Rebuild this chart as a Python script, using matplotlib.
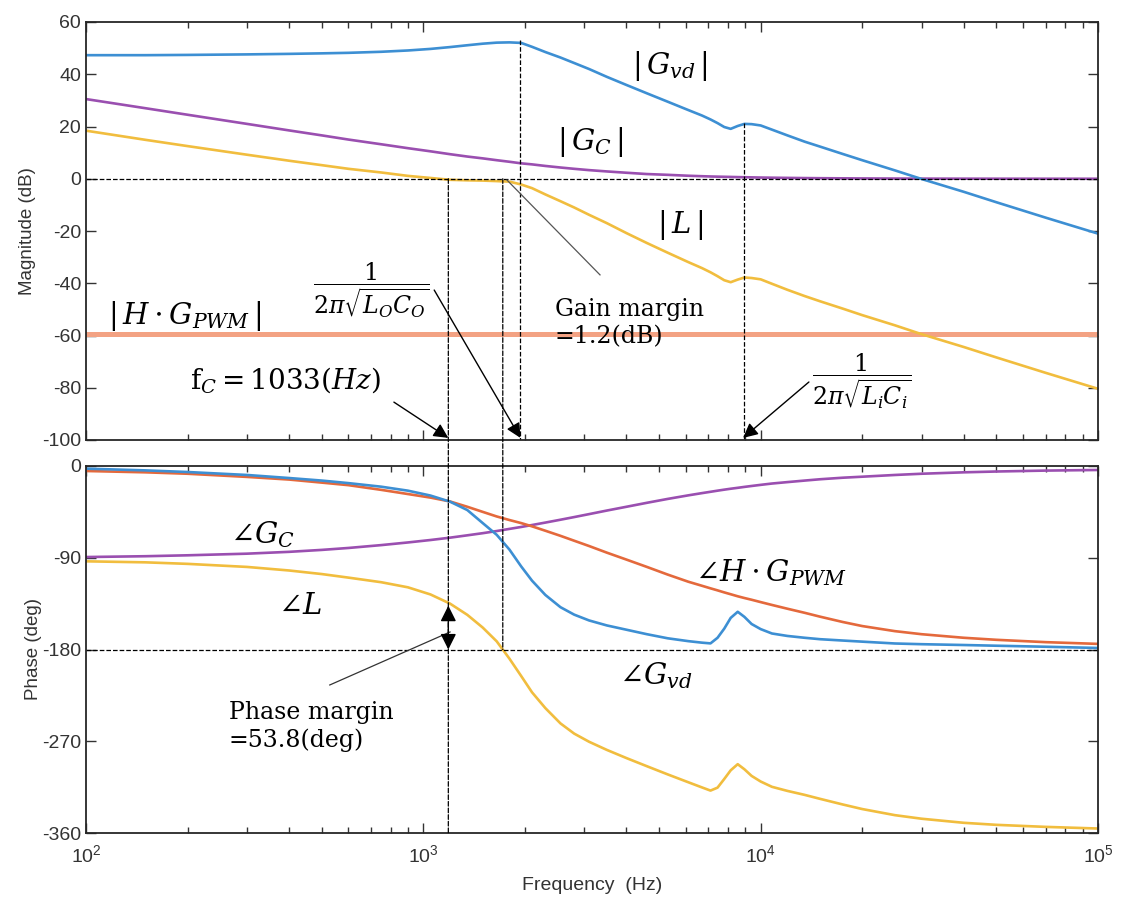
import matplotlib
matplotlib.use("Agg")
import matplotlib.pyplot as plt
from matplotlib.patches import ConnectionPatch

plt.rcParams['font.family'] = ['Liberation Sans Narrow', 'Liberation Sans', 'DejaVu Sans']
plt.rcParams['mathtext.fontset'] = 'dejavuserif'
plt.rcParams['axes.unicode_minus'] = False

# frequency grid (Hz)
freq = [100, 150, 200, 300, 400, 500, 600, 750, 900, 1050, 1200, 1350, 1500, 1650, 1800, 1950,
        2100, 2300, 2550, 2800, 3100, 3500, 4000, 4600, 5300, 6100, 6700, 7100, 7450, 7800,
        8150, 8550, 8950, 9400, 10000, 10800, 12000, 13500, 15000, 17500, 20000, 25000, 30000,
        40000, 50000, 70000, 100000]

# magnitude (dB)
gvd_mag = [47.3, 47.3, 47.4, 47.6, 47.8, 48.0, 48.2, 48.6, 49.1, 49.7, 50.4, 51.1, 51.7, 52.1, 52.2, 52.0,
           50.5, 48.5, 46.4, 44.3, 42.0, 39.0, 35.9, 32.7, 29.5, 26.3, 24.2, 22.7, 21.3, 19.8,
           19.1, 20.2, 21.0, 20.9, 20.4, 18.8, 16.6, 14.2, 12.3, 9.5, 7.1, 3.2, -0.1,
           -5.0, -9.0, -14.9, -21.0]
gc_mag = [30.5, 27.0, 24.5, 21.0, 18.5, 16.6, 15.0, 13.2, 11.7, 10.5, 9.4, 8.5, 7.8, 7.1, 6.5, 5.9,
          5.5, 4.9, 4.3, 3.8, 3.3, 2.8, 2.3, 1.8, 1.5, 1.15, 0.97, 0.87, 0.8, 0.75,
          0.7, 0.63, 0.58, 0.53, 0.46, 0.4, 0.33, 0.26, 0.21, 0.16, 0.12, 0.08, 0.05,
          0.03, 0.02, 0.01, 0.0]
l_mag = [18.4, 14.9, 12.5, 9.2, 6.9, 5.2, 3.8, 2.4, 1.1, 0.3, -0.4, -0.6, -0.7, -0.9, -1.1, -2.2,
         -3.6, -6.0, -8.6, -11.0, -13.8, -17.0, -20.8, -24.6, -28.3, -31.9, -34.2, -35.8, -37.3, -38.85,
         -39.6, -38.6, -37.8, -38.0, -38.5, -40.2, -42.5, -44.9, -46.9, -49.7, -52.2, -56.1, -59.5,
         -64.4, -68.4, -74.3, -80.4]
hpwm_mag = -59.4

# phase (deg)
gvd_ph = [-2.6, -4.3, -5.9, -8.8, -11.8, -14.3, -16.8, -20.3, -24.2, -29.0, -35.0, -43.2, -56.0, -67.5, -82.0, -98.5,
          -112.5, -126.5, -138.5, -145.8, -151.5, -156.4, -160.6, -165.0, -169.0, -171.8, -173.3, -174.0, -168.5, -159.5,
          -149.0, -143.0, -148.0, -155.0, -160.0, -164.3, -166.7, -168.5, -169.9, -171.2, -172.3, -174.1, -174.8,
          -175.6, -176.3, -177.3, -178.5]
gc_ph = [-89.3, -88.5, -87.6, -86.0, -84.2, -82.3, -80.4, -77.6, -75.0, -72.6, -70.3, -68.0, -65.9, -63.8, -61.7, -59.8,
         -57.9, -55.5, -52.7, -50.1, -47.2, -43.7, -40.0, -36.1, -32.3, -28.8, -26.6, -25.3, -24.2, -23.2,
         -22.3, -21.4, -20.5, -19.6, -18.5, -17.2, -15.8, -14.3, -13.0, -11.5, -10.5, -8.8, -7.6,
         -6.2, -5.4, -4.5, -3.9]
hpwm_ph = [-4.9, -6.2, -7.6, -10.7, -13.3, -16.3, -18.8, -23.4, -27.5, -31.0, -34.8, -40.0, -45.0, -49.5, -53.0, -56.0,
           -59.2, -63.5, -68.5, -73.3, -78.5, -85.0, -91.8, -99.0, -106.5, -113.5, -117.5, -120.0, -122.0, -124.0,
           -125.8, -127.8, -129.5, -131.2, -133.5, -136.3, -140.0, -144.0, -147.8, -153.0, -157.0, -162.0, -165.0,
           -168.5, -170.5, -172.8, -174.5]
l_ph = [-93.5, -94.5, -96.0, -99.0, -102.5, -106.0, -109.5, -114.0, -119.0, -126.0, -135.0, -146.0, -158.5, -172.0, -189.0, -206.0,
        -222.0, -237.5, -252.5, -262.5, -270.5, -278.5, -286.5, -294.5, -302.5, -310.2, -315.3, -318.4, -315.5, -307.0,
        -298.5, -292.5, -297.5, -304.0, -309.5, -314.7, -318.7, -322.6, -326.5, -332.0, -336.5, -342.5, -346.0,
        -350.0, -352.0, -354.0, -355.6]

# frequencies of the dashed guide lines
f_cross = 1186
f_pm = 1720
f_lo = 1940
f_li = 8950

c_blue = '#3d8fd3'
c_purple = '#9a4fb0'
c_yellow = '#f1bd3e'
c_orange = '#e4693c'
c_orange_lt = '#f3a283'

fig = plt.figure(figsize=(11.23, 9.02), dpi=100)
ax1 = fig.add_axes([86/1123, 1-440/902, 1012/1123, 418/902])
ax2 = fig.add_axes([86/1123, 1-833/902, 1012/1123, 367/902])

lw = 1.9
ax1.plot(freq, [hpwm_mag]*len(freq), color=c_orange_lt, lw=3.6)
ax1.plot(freq, gc_mag, color=c_purple, lw=lw)
ax1.plot(freq, l_mag, color=c_yellow, lw=lw)
ax1.plot(freq, gvd_mag, color=c_blue, lw=lw)

ax2.plot(freq, gc_ph, color=c_purple, lw=lw)
ax2.plot(freq, hpwm_ph, color=c_orange, lw=lw)
ax2.plot(freq, l_ph, color=c_yellow, lw=lw)
ax2.plot(freq, gvd_ph, color=c_blue, lw=lw)

for ax in (ax1, ax2):
    ax.set_xscale('log')
    ax.set_xlim(100, 1e5)
    ax.tick_params(which='both', direction='in', top=True, right=True, colors='#333333',
                   labelsize=14, width=1)
    ax.tick_params(which='major', length=7)
    ax.tick_params(which='minor', length=4)
    for s in ax.spines.values():
        s.set_linewidth(1.3)
        s.set_color('#262626')

ax1.set_ylim(-100, 60)
ax1.set_yticks(range(-100, 61, 20))
ax1.tick_params(labelbottom=False)
ax1.set_ylabel('Magnitude (dB)', fontsize=13.5, color='#333333', labelpad=4)

ax2.set_ylim(-360, 0)
ax2.set_yticks([-360, -270, -180, -90, 0])
ax2.tick_params(axis='x', pad=8)
ax2.set_ylabel('Phase (deg)', fontsize=13.5, color='#333333', labelpad=0)
ax2.set_xlabel('Frequency  (Hz)', fontsize=14, color='#333333', labelpad=8)

ax1.axhline(0, color='k', ls='--', lw=0.9)
ax2.axhline(-180, color='k', ls='--', lw=0.9)

# vertical guides
ax1.plot([f_lo, f_lo], [53, -100], color='k', ls='--', lw=0.9)
ax1.plot([f_li, f_li], [21.3, -100], color='k', ls='--', lw=0.9)
for f, y_end in ((f_cross, -360), (f_pm, -180)):
    con = ConnectionPatch(xyA=(f, 0), coordsA=ax1.transData, xyB=(f, y_end), coordsB=ax2.transData,
                          linestyle='--', color='k', lw=0.9)
    fig.add_artist(con)

# labels in magnitude plot
ms = 21
ax1.text(5380, 43.2, r'$|\,G_{vd}\,|$', fontsize=ms, ha='center', va='center')
ax1.text(3120, 14.1, r'$|\,G_C\,|$', fontsize=ms, ha='center', va='center')
ax1.text(5770, -17.7, r'$|\,L\,|$', fontsize=ms, ha='center', va='center')
ax1.text(196, -52.5, r'$|\,H\cdot G_{PWM}\,|$', fontsize=ms, ha='center', va='center')
ax1.text(700, -42.6, r'$\dfrac{1}{2\pi\sqrt{L_O C_O}}$', fontsize=17, ha='center', va='center')
ax1.text(389, -77, r'$\mathrm{f}_C=1033(Hz)$', fontsize=20, ha='center', va='center')
ax1.text(19950, -77.4, r'$\dfrac{1}{2\pi\sqrt{L_i C_i}}$', fontsize=17, ha='center', va='center')
ax1.text(2455, -45.5, 'Gain margin\n=1.2(dB)', fontsize=17, family='DejaVu Serif',
         ha='left', va='top', linespacing=1.25)

arr = dict(arrowstyle='-|>', color='k', lw=1, mutation_scale=22, shrinkA=0, shrinkB=0)
ax1.annotate('', xy=(f_cross, -99.2), xytext=(818, -85.5), arrowprops=arr)
ax1.annotate('', xy=(f_lo, -99.2), xytext=(1077, -42.6), arrowprops=arr)
ax1.annotate('', xy=(8870, -99.2), xytext=(13900, -77.8), arrowprops=arr)
ax1.plot([1770, 3340], [-0.5, -36.8], color='#555555', lw=0.9)

# labels in phase plot
ax2.text(333, -67.7, r'$\angle G_C$', fontsize=ms, ha='center', va='center')
ax2.text(431, -137.3, r'$\angle L$', fontsize=ms, ha='center', va='center')
ax2.text(10740, -105, r'$\angle H\cdot G_{PWM}$', fontsize=ms, ha='center', va='center')
ax2.text(4900, -206, r'$\angle G_{vd}$', fontsize=ms, ha='center', va='center')
ax2.text(265, -230.5, 'Phase margin\n=53.8(deg)', fontsize=17, family='DejaVu Serif',
         ha='left', va='top', linespacing=1.25)
ax2.annotate('', xy=(f_cross, -137), xytext=(f_cross, -180),
             arrowprops=dict(arrowstyle='<|-|>', color='k', lw=1, mutation_scale=24,
                             shrinkA=0, shrinkB=0))
ax2.plot([528, 1200], [-214.8, -162.8], color='#333333', lw=0.9)

fig.savefig('out.png', dpi=100)
